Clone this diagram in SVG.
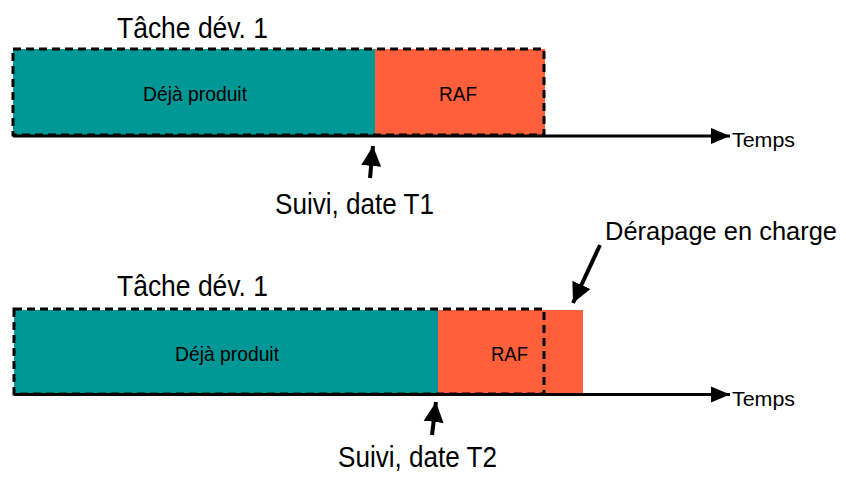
<svg xmlns="http://www.w3.org/2000/svg" width="846" height="481" viewBox="0 0 846 481">
<defs>
<style>
.big{font-family:"Liberation Sans",Arial,sans-serif;font-size:30px;fill:#000}
.sm{font-family:"Liberation Sans",Arial,sans-serif;font-size:21px;fill:#000}
.done{fill:#009896}
.raf{fill:#FF5F3B}
.dash{fill:none;stroke:#000;stroke-width:3;stroke-dasharray:8 5}
.axis{stroke:#000;stroke-width:3;fill:none}
.ptr{stroke:#000;stroke-width:4;fill:none}
</style>
<marker id="axhead" markerUnits="userSpaceOnUse" markerWidth="20" markerHeight="18" refX="19" refY="8" orient="auto" viewBox="0 0 20 16">
<polygon points="0,0 19,8 0,16" fill="#000"/>
</marker>
<marker id="ptrhead" markerUnits="userSpaceOnUse" markerWidth="22" markerHeight="22" refX="20" refY="10" orient="auto" viewBox="0 0 22 20">
<polygon points="0,0 20,10 0,20" fill="#000"/>
</marker>
</defs>

<g id="task1">
<text class="big" x="117" y="38" textLength="151" lengthAdjust="spacingAndGlyphs">Tâche dév. 1</text>
<rect class="done" x="13" y="49" width="362" height="86"/>
<rect class="raf" x="375" y="49" width="170" height="86"/>
<rect class="dash" x="13" y="49" width="531" height="86"/>
<text class="sm" x="143" y="101" textLength="104" lengthAdjust="spacingAndGlyphs">Déjà produit</text>
<text class="sm" x="439" y="101" textLength="38" lengthAdjust="spacingAndGlyphs">RAF</text>
</g>

<g id="task2">
<text class="big" x="117" y="296" textLength="151" lengthAdjust="spacingAndGlyphs">Tâche dév. 1</text>
<rect class="done" x="14" y="310" width="424" height="84"/>
<rect class="raf" x="438" y="310" width="145" height="84"/>
<rect class="dash" x="14" y="309" width="530" height="85"/>
<text class="sm" x="175" y="361" textLength="104" lengthAdjust="spacingAndGlyphs">Déjà produit</text>
<text class="sm" x="491" y="361" textLength="37" lengthAdjust="spacingAndGlyphs">RAF</text>
</g>

<g id="axis1">
<text class="sm" x="732" y="147" textLength="63" lengthAdjust="spacingAndGlyphs">Temps</text>
</g>
<g id="axis2">
<text class="sm" x="732" y="406" textLength="63" lengthAdjust="spacingAndGlyphs">Temps</text>
</g>

<g id="label-t1">
<text class="big" x="275" y="214" textLength="159" lengthAdjust="spacingAndGlyphs">Suivi, date T1</text>
</g>
<g id="label-t2">
<text class="big" x="338" y="467" textLength="159" lengthAdjust="spacingAndGlyphs">Suivi, date T2</text>
</g>
<g id="label-derapage">
<text class="big" x="605" y="240" style="font-size:26px" textLength="232" lengthAdjust="spacingAndGlyphs">Dérapage en charge</text>
</g>

<g id="connectors">
<line class="axis" x1="13" y1="136" x2="730" y2="136" marker-end="url(#axhead)"/>
<line class="axis" x1="14" y1="394.5" x2="730" y2="394.5" marker-end="url(#axhead)"/>
<line class="ptr" x1="370" y1="178" x2="373" y2="146" marker-end="url(#ptrhead)"/>
<line class="ptr" x1="432" y1="435" x2="436" y2="402" marker-end="url(#ptrhead)"/>
<line class="ptr" x1="600" y1="245" x2="573" y2="303" marker-end="url(#ptrhead)"/>
</g>
</svg>
